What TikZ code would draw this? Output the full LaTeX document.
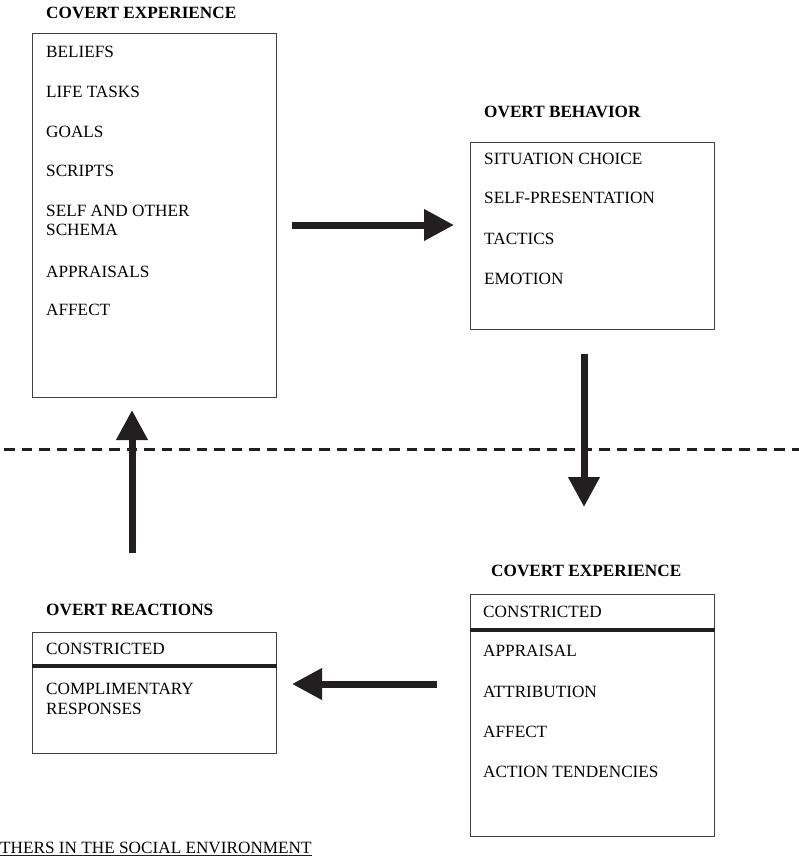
\documentclass[tikz,border=0pt]{standalone}
\usepackage{fontspec}
\setmainfont{Liberation Serif}
\usetikzlibrary{arrows.meta}
\definecolor{ink}{HTML}{231F20}
\tikzset{
  box/.style={draw=black!75, line width=1.3pt, rectangle, inner sep=0pt, anchor=north west},
  item/.style={anchor=west, inner sep=0pt, font=\fontsize{17.2}{19.5}\selectfont, align=left},
  title/.style={anchor=west, inner sep=0pt, font=\fontsize{17.2}{19.5}\selectfont\bfseries},
  divider/.style={draw=ink, line width=3.5pt},
  bigarrow/.style={draw=ink, fill=ink, line width=7pt, -{Triangle[length=30pt,width=30pt]}},
  sepline/.style={draw=ink, line width=3pt, dash pattern=on 10.5pt off 7pt}
}
\begin{document}
\begin{tikzpicture}[x=1pt,y=-1pt]
\useasboundingbox (0,0) rectangle (799,859);
% titles
\node[title] (t1) at (46,12.5) {COVERT EXPERIENCE};
\node[title] (t2) at (484,111.5) {OVERT BEHAVIOR};
\node[title] (t3) at (46,610) {OVERT REACTIONS};
\node[title] (t4) at (491,571) {COVERT EXPERIENCE};
% boxes
\node[box, minimum width=244pt, minimum height=364pt] (b1) at (32,33) {};
\node[box, minimum width=244pt, minimum height=187pt] (b2) at (470,142) {};
\node[box, minimum width=244pt, minimum height=121pt] (b3) at (32,632) {};
\node[box, minimum width=244pt, minimum height=242pt] (b4) at (470,594) {};
% dividers
\coordinate (d3) at (0,666);
\coordinate (d4) at (0,630);
\draw[divider] (b3.west |- d3) -- (b3.east |- d3);
\draw[divider] (b4.west |- d4) -- (b4.east |- d4);
% box 1 items
\node[item] (i11) at (46,52) {BELIEFS};
\node[item] (i12) at (46,92) {LIFE TASKS};
\node[item] (i13) at (46,132) {GOALS};
\node[item] (i14) at (46,171) {SCRIPTS};
\node[item] (i15) at (46,220.5) {SELF AND OTHER\\SCHEMA};
\node[item] (i16) at (46,272) {APPRAISALS};
\node[item] (i17) at (46,310) {AFFECT};
% box 2 items
\node[item] (i21) at (484,159) {SITUATION CHOICE};
\node[item] (i22) at (484,198) {SELF-PRESENTATION};
\node[item] (i23) at (484,239) {TACTICS};
\node[item] (i24) at (484,279) {EMOTION};
% box 3 items
\node[item] (i31) at (46,649) {CONSTRICTED};
\node[item] (i32) at (46,699) {COMPLIMENTARY\\RESPONSES};
% box 4 items
\node[item] (i41) at (483,612) {CONSTRICTED};
\node[item] (i42) at (483,651) {APPRAISAL};
\node[item] (i43) at (483,692) {ATTRIBUTION};
\node[item] (i44) at (483,732) {AFFECT};
\node[item] (i45) at (483,772) {ACTION TENDENCIES};
% dashed separator
\coordinate (dl) at (4,449);
\coordinate (dr) at (799,449);
\draw[sepline] (dl) -- (dr);
% arrows
\coordinate (a1s) at (292,225);
\coordinate (a1e) at (454,225);
\coordinate (a2s) at (584,354);
\coordinate (a2e) at (584,507);
\coordinate (a3s) at (437,684);
\coordinate (a3e) at (292,684);
\coordinate (a4s) at (132,553);
\coordinate (a4e) at (132,410);
\draw[bigarrow] (a1s) -- (a1e);
\draw[bigarrow] (a2s) -- (a2e);
\draw[bigarrow] (a3s) -- (a3e);
\draw[bigarrow] (a4s) -- (a4e);
% bottom label
\node[item] (env) at (0,848) {THERS IN THE SOCIAL ENVIRONMENT};
\draw[line width=1pt, draw=ink] ([yshift=-1.8pt]env.south west) -- ([yshift=-1.8pt]env.south east);
\end{tikzpicture}
\end{document}
